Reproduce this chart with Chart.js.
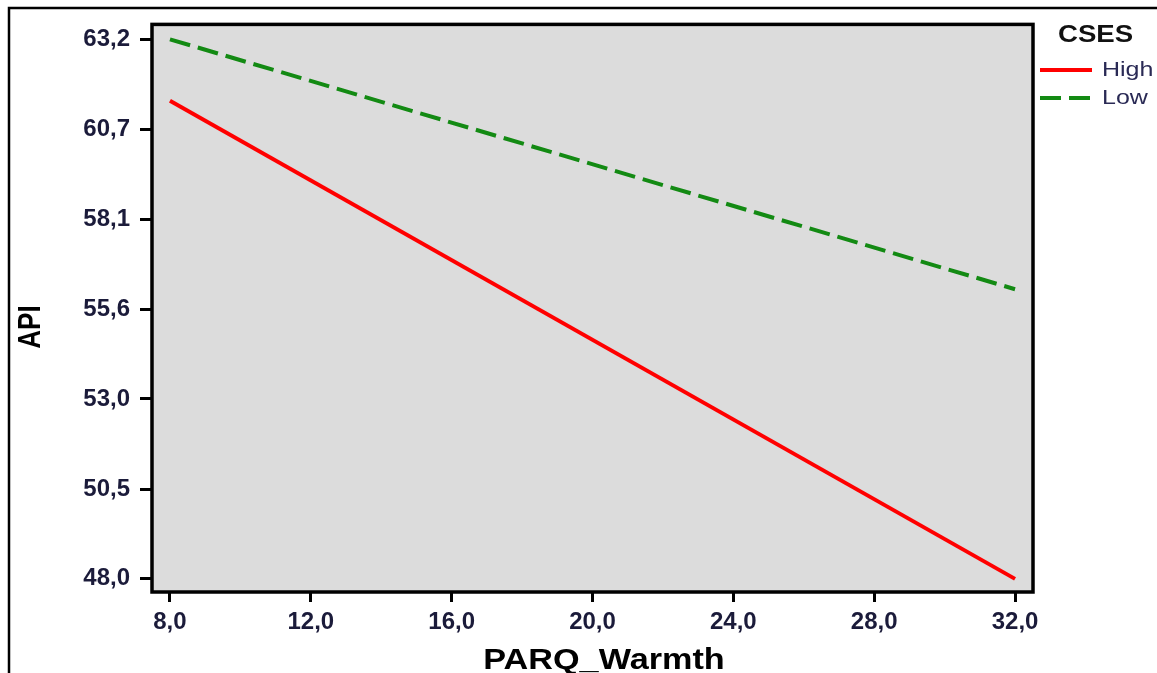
<!DOCTYPE html>
<html>
<head>
<meta charset="utf-8">
<script src="https://cdn.jsdelivr.net/npm/chart.js@4.4.1/dist/chart.umd.min.js"></script>
<style>
  html, body { margin: 0; padding: 0; background: #fff; }
  #wrap { width: 1157px; height: 673px; position: relative; }
</style>
</head>
<body>
<div id="wrap"><canvas id="plot"></canvas></div>
<script>
// Data
const warmth = [8, 32];
const highApi = [61.47, 48.0];
const lowApi = [63.2, 56.16];
const xTickValues = [8, 12, 16, 20, 24, 28, 32];
const xTickLabels = ["8,0", "12,0", "16,0", "20,0", "24,0", "28,0", "32,0"];
const yTickValues = [48.0, 50.53, 53.07, 55.6, 58.13, 60.67, 63.2];
const yTickLabels = ["48,0", "50,5", "53,0", "55,6", "58,1", "60,7", "63,2"];
const seriesNames = ["High", "Low"];

const FAMILY = "'Liberation Sans', Arial, sans-serif";
const tickFont = { family: FAMILY, size: 24, weight: "bold" };
const tickColor = "#1b1b3a";

// the original figure is a bit stretched sideways, so text is drawn with an x-scale
function stretchText(ctx, text, x, y, sx, font, color, align) {
  ctx.save();
  ctx.font = font;
  ctx.fillStyle = color;
  ctx.textAlign = align || "left";
  ctx.textBaseline = "middle";
  ctx.translate(x, y);
  ctx.scale(sx, 1);
  ctx.fillText(text, 0, 0);
  ctx.restore();
}

// grey panel + black frame + outer figure frame
const framePlugin = {
  id: "frame",
  beforeDraw(chart) {
    const { ctx, chartArea: a } = chart;
    ctx.save();
    ctx.fillStyle = "#dcdcdc";
    ctx.fillRect(a.left, a.top, a.right - a.left, a.bottom - a.top);
    ctx.strokeStyle = "#000";
    ctx.lineWidth = 2.5;
    ctx.beginPath();
    ctx.moveTo(9, chart.height);
    ctx.lineTo(9, 8);
    ctx.lineTo(chart.width, 8);
    ctx.stroke();
    ctx.restore();
  },
  afterDatasetsDraw(chart) {
    const { ctx, chartArea: a } = chart;
    ctx.save();
    ctx.strokeStyle = "#000";
    ctx.lineWidth = 3.5;
    ctx.strokeRect(a.left, a.top, a.right - a.left, a.bottom - a.top);
    ctx.restore();
  }
};

// axis titles
const titlePlugin = {
  id: "axisTitles",
  afterDraw(chart) {
    const { ctx } = chart;
    stretchText(ctx, "PARQ_Warmth", 604, 661, 1.18, "bold 29px " + FAMILY, "#000", "center");
    ctx.save();
    ctx.translate(31, 327);
    ctx.rotate(-Math.PI / 2);
    ctx.scale(1, 1.2);
    ctx.font = "bold 26px " + FAMILY;
    ctx.fillStyle = "#000";
    ctx.textAlign = "center";
    ctx.textBaseline = "middle";
    ctx.fillText("API", 0, 0);
    ctx.restore();
  }
};

// legend drawn at the right like the original
const legendPlugin = {
  id: "sideLegend",
  afterDraw(chart) {
    const { ctx } = chart;
    stretchText(ctx, "CSES", 1058, 36, 1.2, "bold 23px " + FAMILY, "#111");
    chart.data.datasets.forEach((ds, i) => {
      const y = 70 + i * 28;
      ctx.save();
      ctx.strokeStyle = ds.borderColor;
      ctx.lineWidth = 4;
      ctx.setLineDash(ds.borderDash || []);
      ctx.beginPath();
      ctx.moveTo(1040, y);
      ctx.lineTo(1092, y);
      ctx.stroke();
      ctx.restore();
      stretchText(ctx, ds.label, 1102, y, 1.25, "20px " + FAMILY, "#2a2a55");
    });
  }
};

new Chart(document.getElementById("plot"), {
  type: "line",
  data: {
    datasets: [
      {
        label: seriesNames[0],
        data: warmth.map((x, i) => ({ x, y: highApi[i] })),
        borderColor: "#ff0000",
        borderWidth: 4,
        pointRadius: 0,
        tension: 0
      },
      {
        label: seriesNames[1],
        data: warmth.map((x, i) => ({ x, y: lowApi[i] })),
        borderColor: "#138a13",
        borderWidth: 4,
        borderDash: [21, 8],
        pointRadius: 0,
        tension: 0
      }
    ]
  },
  options: {
    responsive: true,
    maintainAspectRatio: false,
    animation: false,
    layout: { padding: { left: 10, top: 20, right: 124, bottom: 0 } },
    plugins: {
      legend: { display: false },
      tooltip: { enabled: false }
    },
    scales: {
      x: {
        type: "linear",
        min: 7.49,
        max: 32.51,
        afterBuildTicks: s => { s.ticks = xTickValues.map(v => ({ value: v })); },
        afterFit: s => { s.height = 81; },
        ticks: {
          font: tickFont,
          color: tickColor,
          padding: 6,
          maxRotation: 0,
          callback: (v, i) => xTickLabels[i]
        },
        grid: { drawOnChartArea: false, drawTicks: true, tickLength: 10, color: "#000", lineWidth: 3 },
        border: { display: false }
      },
      y: {
        type: "linear",
        min: 47.63,
        max: 63.62,
        afterBuildTicks: s => { s.ticks = yTickValues.map(v => ({ value: v })); },
        afterFit: s => { s.width = 142; },
        ticks: {
          font: tickFont,
          color: tickColor,
          padding: 10,
          callback: (v, i) => yTickLabels[i]
        },
        grid: { drawOnChartArea: false, drawTicks: true, tickLength: 12, color: "#000", lineWidth: 3 },
        border: { display: false }
      }
    }
  },
  plugins: [framePlugin, titlePlugin, legendPlugin]
});
</script>
</body>
</html>
